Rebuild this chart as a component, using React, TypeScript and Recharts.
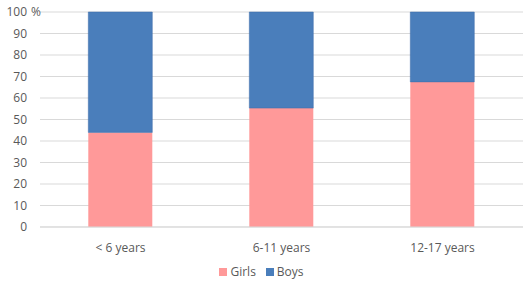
import React from "react";
import {
  BarChart,
  Bar,
  XAxis,
  YAxis,
  CartesianGrid,
  Legend,
} from "recharts";

const categories = ["< 6 years", "6-11 years", "12-17 years"];
const girls = [44, 55.3, 67.5];
const boys = [56, 44.7, 32.5];
const yTicks = [0, 10, 20, 30, 40, 50, 60, 70, 80, 90, 100];
const seriesNames = ["Girls", "Boys"];
const seriesColors = ["#ff9999", "#4a7ebb"];

const data = categories.map((c, i) => ({ name: c, Girls: girls[i], Boys: boys[i] }));

const textColor = "#595959";
const font = "'Open Sans', 'DejaVu Sans', sans-serif";

function YTick(props: any) {
  const { y, payload } = props;
  return (
    <g>
      <text x={27} y={y} dy={4} textAnchor="end" fill={textColor} fontSize={12} fontFamily={font}>
        {payload.value}
      </text>
      {payload.value === 100 && (
        <text x={31} y={y} dy={4} textAnchor="start" fill={textColor} fontSize={12} fontFamily={font}>
          %
        </text>
      )}
    </g>
  );
}

// keep Girls before Boys like the original
function LegendBox() {
  return (
    <div style={{ display: "flex", justifyContent: "center", gap: 10, fontSize: 12, fontFamily: font, color: textColor }}>
      {seriesNames.map((n, i) => (
        <span key={n} style={{ display: "flex", alignItems: "center" }}>
          <span style={{ width: 8, height: 8, background: seriesColors[i], marginRight: 3, display: "inline-block" }} />
          {n}
        </span>
      ))}
    </div>
  );
}

export default function App() {
  return (
    <div style={{ position: "absolute", left: 0, top: 0, width: 529, height: 286, background: "#fff" }}>
      <BarChart
        width={529}
        height={286}
        data={data}
        margin={{ top: 12, right: 6, left: 0, bottom: 3 }}
        barCategoryGap="30%"
      >
        <CartesianGrid vertical={false} stroke="#d9d9d9" />
        <XAxis
          dataKey="name"
          tick={{ fill: textColor, fontSize: 12, fontFamily: font }}
          tickLine={false}
          axisLine={{ stroke: "#d9d9d9" }}
          tickMargin={10}
          height={36}
        />
        <YAxis
          domain={[0, 100]}
          ticks={yTicks}
          width={40}
          axisLine={false}
          tickLine={false}
          tick={<YTick />}
          interval={0}
        />
        <Legend height={20} content={<LegendBox />} />
        <Bar dataKey="Girls" stackId="a" fill={seriesColors[0]} isAnimationActive={false} />
        <Bar dataKey="Boys" stackId="a" fill={seriesColors[1]} stroke="#3d6da8" strokeWidth={0.5} isAnimationActive={false} />
      </BarChart>
    </div>
  );
}
